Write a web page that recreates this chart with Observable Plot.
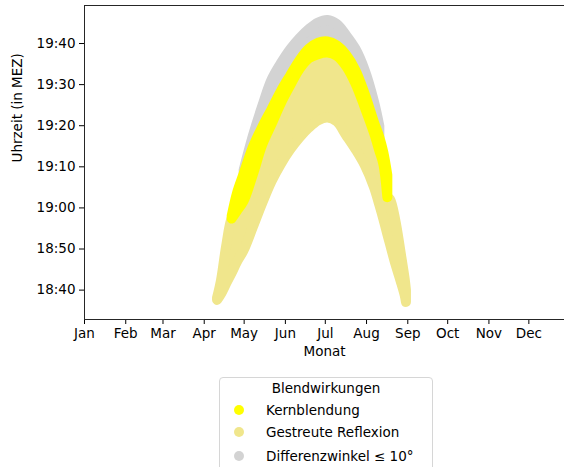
<!DOCTYPE html>
<html><head><meta charset="utf-8">
<script src="https://cdn.jsdelivr.net/npm/d3@7"></script>
<script src="https://cdn.jsdelivr.net/npm/@observablehq/plot@0.6"></script>
<style>
body{margin:0;background:#fff;font-family:"DejaVu Sans",sans-serif;}
#wrap{position:relative;width:564px;height:467px;overflow:hidden;}
#legend{position:absolute;left:219px;top:377px;width:214px;height:110px;border:1px solid #d6d6d6;border-radius:4px;box-sizing:border-box;font-size:13.5px;color:#000;}
#legend .t{position:absolute;left:0;width:100%;text-align:center;line-height:16px;}
#legend .row{position:absolute;left:0;height:16px;line-height:16px;white-space:nowrap;}
#legend .dot{position:absolute;left:14px;top:3px;width:10px;height:10px;border-radius:50%;}
#legend .lab{position:absolute;left:46px;top:0;}
</style></head><body>
<div id="wrap"><div id="chart"></div><div id="legend"></div></div>
<script>
// Sample days (year arbitrary) and glare times in minutes after 18:00 MEZ
const dates = ["2021-04-11","2021-04-14","2021-04-18","2021-04-22","2021-04-26","2021-05-01","2021-05-08","2021-05-15","2021-05-22","2021-05-29","2021-06-05","2021-06-12","2021-06-19","2021-06-26","2021-07-03","2021-07-10","2021-07-17","2021-07-24","2021-07-31","2021-08-07","2021-08-11","2021-08-14","2021-08-17","2021-08-19","2021-08-23","2021-08-27","2021-08-30","2021-08-31"];
// lower limit of "Gestreute Reflexion"
const gestreuteLow = [37.5,39.0,41.6,44.1,46.8,49.6,55.3,61.1,66.4,70.6,74.1,77.0,79.4,81.2,81.9,80.9,77.6,74.2,70.3,64.9,60.6,57.2,53.5,51.1,46.3,42.1,38.7,37.0];
// upper limit of "Gestreute Reflexion" (= lower limit of "Kernblendung")
const gestreuteTop = [38.0,42.3,50.9,57.3,59.2,61.6,68.1,75.3,80.3,85.4,89.7,93.7,96.3,97.3,97.7,96.9,94.4,90.2,84.4,78.1,73.8,70.6,62.5,62.0,56.9,49.0,42.7,39.9];
// upper limit of "Kernblendung"
const kernTop = [null,null,null,57.9,63.5,68.2,74.7,79.6,83.9,88.3,92.1,95.8,98.6,100.1,100.4,99.4,97.1,93.4,87.6,80.7,77.1,73.4,67.9,null,null,null,null,null];
// upper limit of "Differenzwinkel <= 10°"
const differenzTop = [null,null,null,null,null,69.1,77.5,84.7,91.1,95.1,98.5,101.2,103.4,105.0,105.6,104.6,101.9,98.6,93.4,85.7,79.8,null,null,null,null,null,null,null];

const categories = ["Kernblendung","Gestreute Reflexion","Differenzwinkel \u2264 10\u00b0"];
const colors = ["yellow","khaki","lightgray"];
const monthLabels = ["Jan","Feb","Mar","Apr","May","Jun","Jul","Aug","Sep","Oct","Nov","Dec"];
const timeTicks = [40,50,60,70,80,90,100];
const timeLabels = ["18:40","18:50","19:00","19:10","19:20","19:30","19:40"];

const rows = dates.map((d,i)=>({date:new Date(d), low:gestreuteLow[i], gTop:gestreuteTop[i], kTop:kernTop[i], dTop:differenzTop[i]}));
const x0 = new Date(Date.UTC(2021,0,1));
const x1 = new Date(Date.UTC(2021,0,1) + 360.8*864e5);
const yDom = [32.85, 109.25];
const monthTicks = monthLabels.map((m,i)=>new Date(Date.UTC(2021,i,1)));
const band = {x:"date", strokeWidth:10, strokeLinejoin:"round", strokeLinecap:"round", curve:"catmull-rom"};

const chart = Plot.plot({
  width:564, height:372, marginTop:5, marginLeft:84, marginRight:0, marginBottom:53,
  style:{fontFamily:"DejaVu Sans, sans-serif", fontSize:"13.5px", color:"#000", background:"transparent", overflow:"visible"},
  x:{type:"utc", domain:[x0,x1]},
  y:{domain:yDom},
  marks:[
    Plot.areaY(rows, {...band, y1:"kTop", y2:"dTop", fill:colors[2], stroke:colors[2]}),
    Plot.areaY(rows, {...band, y1:"low", y2:"gTop", fill:colors[1], stroke:colors[1]}),
    Plot.areaY(rows, {...band, y1:"gTop", y2:"kTop", fill:colors[0], stroke:colors[0]}),
    Plot.axisX({ticks:monthTicks, tickFormat:d=>monthLabels[d.getUTCMonth()], tickSize:5, tickPadding:4, label:null}),
    Plot.axisY({ticks:timeTicks, tickFormat:d=>timeLabels[timeTicks.indexOf(d)], tickSize:5, tickPadding:4, label:null}),
    Plot.ruleX([x0], {stroke:"#262626", strokeWidth:1}),
    Plot.ruleY(yDom, {stroke:"#262626", strokeWidth:1}),
    Plot.text(["Monat"], {frameAnchor:"bottom", dy:36, fontSize:13.5, fill:"#000"}),
    Plot.text(["Uhrzeit (in MEZ)"], {frameAnchor:"left", dx:-67, rotate:-90, fontSize:13.5, fill:"#000"})
  ]
});
document.getElementById("chart").appendChild(chart);

const lg = document.getElementById("legend");
const title = document.createElement("div");
title.className = "t"; title.style.top = "2px"; title.textContent = "Blendwirkungen";
lg.appendChild(title);
const rowTops = [24, 46, 70];
categories.forEach((c,i)=>{
  const r = document.createElement("div");
  r.className = "row"; r.style.top = rowTops[i] + "px";
  const dt = document.createElement("span"); dt.className = "dot"; dt.style.background = colors[i];
  const lb = document.createElement("span"); lb.className = "lab"; lb.textContent = c;
  r.appendChild(dt); r.appendChild(lb); lg.appendChild(r);
});
</script>
</body></html>
